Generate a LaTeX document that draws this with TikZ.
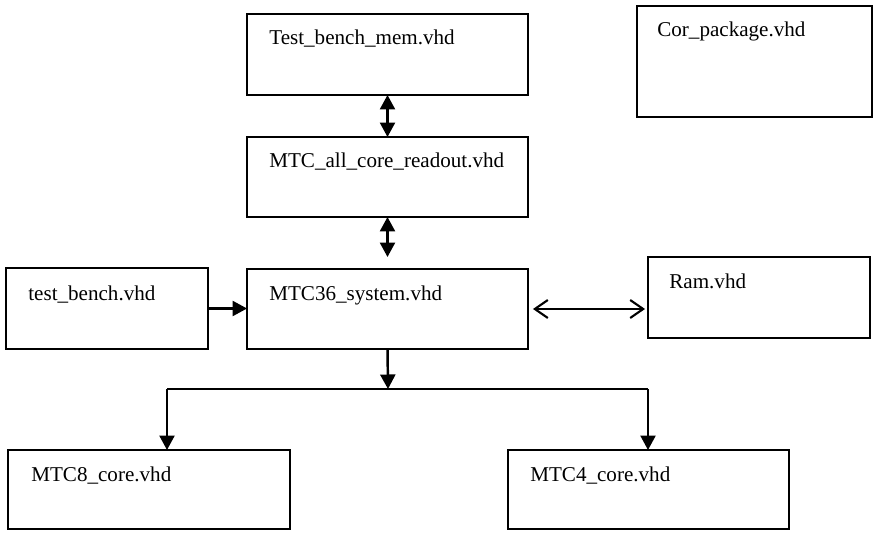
\documentclass[tikz,border=0pt]{standalone}
\usepackage{fontspec}
\setmainfont{Liberation Serif}
\usetikzlibrary{arrows.meta, positioning}

\begin{document}
\begin{tikzpicture}[x=0.02cm, y=-0.02cm,
  vhdbox/.style={draw, line width=1.4pt, inner sep=0pt, outer sep=0pt},
  vhdname/.style={anchor=base west, inner sep=0pt, font=\fontsize{12}{14}\selectfont},
  flow/.style={line width=1.4pt, -{Triangle[length=2.9mm, width=3mm]}},
  dflow/.style={line width=1.4pt, {Triangle[length=2.9mm, width=3mm]}-{Triangle[length=2.9mm, width=3mm]}},
  link/.style={line width=1.2pt, {Straight Barb[length=2.6mm, width=3.6mm]}-{Straight Barb[length=2.6mm, width=3.6mm]}}]
  \useasboundingbox (0,0) rectangle (874,533);

  % --- Top column: memory test bench and readout ---
  \node[vhdbox, minimum width=5.62cm, minimum height=1.62cm] (tbmem) at (387.5,54.5) {};
  \node[vhdname] (tbmem-name) at (269,45) {Test\_bench\_mem.vhd};
  \node[vhdbox, minimum width=5.62cm, minimum height=1.60cm] (readout) at (387.5,177) {};
  \node[vhdname] (readout-name) at (269,168) {MTC\_all\_core\_readout.vhd};

  % Package box, stands alone
  \node[vhdbox, minimum width=4.70cm, minimum height=2.22cm] (corpkg) at (754.5,61.5) {};
  \node[vhdname] (corpkg-name) at (657,37) {Cor\_package.vhd};

  % --- Middle row ---
  \node[vhdbox, minimum width=4.04cm, minimum height=1.62cm] (tbench) at (107,308.5) {};
  \node[vhdname] (tbench-name) at (28,300) {test\_bench.vhd};
  \node[vhdbox, minimum width=5.62cm, minimum height=1.60cm] (system) at (387.5,309) {};
  \node[vhdname] (system-name) at (269,300) {MTC36\_system.vhd};
  \node[vhdbox, minimum width=4.44cm, minimum height=1.62cm] (ram) at (759,297.5) {};
  \node[vhdname] (ram-name) at (669,288) {Ram.vhd};

  % --- Bottom row: cores ---
  \node[vhdbox, minimum width=5.64cm, minimum height=1.58cm] (core8) at (149,489.5) {};
  \node[vhdname] (core8-name) at (31,481) {MTC8\_core.vhd};
  \node[vhdbox, minimum width=5.62cm, minimum height=1.58cm] (core4) at (648.5,489.5) {};
  \node[vhdname] (core4-name) at (530,481) {MTC4\_core.vhd};

  % Connectors
  \draw[dflow] (tbmem.south) -- (readout.north);
  \coordinate (sys-in) at ([yshift=0.24cm]system.north);
  \draw[dflow] (readout.south) -- (sys-in);
  \draw[flow] (tbench.east) -- (tbench.east -| system.west);
  \draw[link, shorten <=0.1cm, shorten >=0.06cm] (system.east) -- (system.east -| ram.west);

  % Split to the two cores
  \coordinate (split) at (388,389);
  \coordinate (split-l) at (167,389);
  \coordinate (split-r) at (648,389);
  \draw[flow] (system.south) -- (split);
  \draw[line width=1.4pt] (split-l) -- (split-r);
  \draw[flow] (split-l) -- (split-l |- core8.north);
  \draw[flow] (split-r) -- (split-r |- core4.north);
\end{tikzpicture}
\end{document}
